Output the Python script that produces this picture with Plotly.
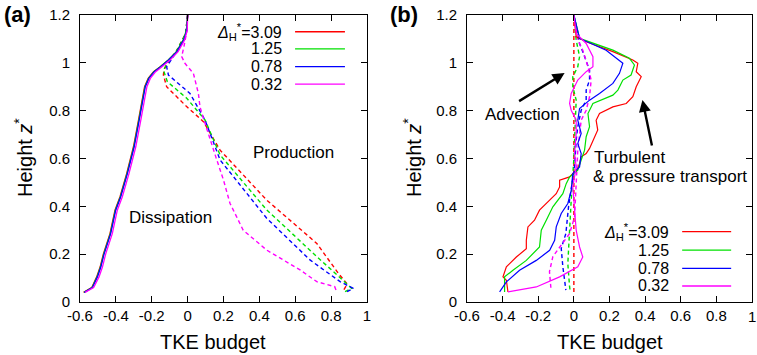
import plotly.graph_objects as go

# ---------------- data ----------------
labels = ["3.09", "1.25", "0.78", "0.32"]
colors = ["#ff0000", "#00e000", "#0000ff", "#ff00ff"]

# (a) dissipation (solid)
z_diss = [0.04, 0.06, 0.105, 0.146, 0.2, 0.286, 0.384, 0.44, 0.537, 0.649,
          0.76, 0.83, 0.9, 0.935, 0.963, 0.984, 1.012, 1.047, 1.095, 1.137, 1.2]
diss_309 = [-0.58, -0.535, -0.507, -0.488, -0.47, -0.433, -0.405, -0.377, -0.34, -0.302,
            -0.274, -0.256, -0.24, -0.22, -0.19, -0.153, -0.107, -0.06, -0.023, -0.005, 0.0]
diss_125 = [-0.578, -0.533, -0.505, -0.486, -0.468, -0.431, -0.403, -0.375, -0.338, -0.3,
            -0.272, -0.254, -0.238, -0.218, -0.188, -0.152, -0.108, -0.062, -0.025, -0.006, 0.0]
diss_078 = [-0.576, -0.531, -0.503, -0.484, -0.466, -0.429, -0.401, -0.373, -0.336, -0.298,
            -0.27, -0.252, -0.236, -0.216, -0.186, -0.15, -0.106, -0.06, -0.022, -0.004, 0.0]
diss_032 = [-0.572, -0.524, -0.494, -0.475, -0.457, -0.42, -0.392, -0.364, -0.327, -0.289,
            -0.261, -0.243, -0.227, -0.208, -0.178, -0.143, -0.098, -0.053, -0.017, -0.002, 0.0]

# (a) production (dashed)
z_prod_309 = [1.2, 1.12, 1.05, 1.0, 0.97, 0.949, 0.9, 0.824, 0.754, 0.635, 0.426, 0.245, 0.12, 0.075, 0.05]
prod_309 = [0.0, -0.012, -0.062, -0.112, -0.132, -0.135, -0.117, -0.015, 0.088, 0.181, 0.441, 0.72, 0.84, 0.89, 0.87]
z_prod_125 = [1.2, 1.12, 1.05, 1.0, 0.97, 0.921, 0.852, 0.761, 0.615, 0.385, 0.19, 0.1, 0.057, 0.043]
prod_125 = [0.0, -0.012, -0.062, -0.112, -0.135, -0.113, -0.005, 0.097, 0.181, 0.441, 0.72, 0.85, 0.915, 0.877]
z_prod_078 = [1.2, 1.12, 1.05, 1.0, 0.984, 0.949, 0.872, 0.761, 0.594, 0.35, 0.176, 0.085, 0.057, 0.043]
prod_078 = [0.0, -0.01, -0.058, -0.1, -0.117, -0.107, 0.013, 0.097, 0.181, 0.441, 0.682, 0.85, 0.924, 0.887]
z_prod_032 = [1.2, 1.13, 1.07, 1.026, 0.998, 0.956, 0.872, 0.816, 0.761, 0.691, 0.6, 0.51, 0.413,
              0.30, 0.217, 0.134, 0.085, 0.064, 0.043]
prod_032 = [0.0, -0.005, -0.02, -0.033, -0.015, 0.032, 0.06, 0.069, 0.091, 0.12, 0.16, 0.2, 0.236,
            0.31, 0.441, 0.627, 0.72, 0.82, 0.831]

# (b) turbulent & pressure transport (solid)
z_tr_309 = [1.2, 1.109, 1.088, 1.047, 1.012, 0.998, 0.963, 0.942, 0.9, 0.858, 0.83, 0.816, 0.788, 0.76,
            0.719, 0.677, 0.642, 0.621, 0.607, 0.579, 0.558, 0.523, 0.509, 0.481, 0.453, 0.426,
            0.384, 0.342, 0.314, 0.258, 0.223, 0.188, 0.147, 0.105, 0.091, 0.042]
tr_309 = [0.0, 0.013, 0.069, 0.219, 0.331, 0.359, 0.35, 0.378, 0.35, 0.331, 0.294, 0.219, 0.144, 0.125,
          0.134, 0.107, 0.088, 0.069, 0.041, 0.032, 0.022, -0.024, -0.08, -0.08, -0.099, -0.136,
          -0.193, -0.221, -0.258, -0.267, -0.267, -0.323, -0.379, -0.398, -0.379, -0.37]
z_tr_125 = [1.2, 1.102, 1.053, 1.019, 0.991, 0.949, 0.928, 0.886, 0.865, 0.844, 0.83, 0.788, 0.733,
            0.691, 0.635, 0.593, 0.551, 0.523, 0.495, 0.453, 0.398, 0.342, 0.3, 0.23, 0.174, 0.133,
            0.105, 0.042]
tr_125 = [0.0, 0.032, 0.219, 0.312, 0.34, 0.321, 0.275, 0.247, 0.219, 0.153, 0.107, 0.079, 0.088,
          0.069, 0.06, 0.041, 0.022, -0.024, -0.043, -0.062, -0.118, -0.155, -0.183, -0.193, -0.267,
          -0.342, -0.389, -0.389]
z_tr_078 = [1.2, 1.102, 1.053, 0.998, 0.956, 0.914, 0.872, 0.844, 0.809, 0.76, 0.705, 0.663, 0.621,
            0.565, 0.537, 0.467, 0.412, 0.37, 0.314, 0.258, 0.216, 0.174, 0.133, 0.084, 0.042]
tr_078 = [0.0, 0.032, 0.181, 0.275, 0.256, 0.219, 0.144, 0.088, 0.032, 0.022, 0.041, 0.022, 0.041,
          0.032, -0.006, -0.015, -0.034, -0.071, -0.099, -0.108, -0.136, -0.211, -0.305, -0.379, -0.417]
z_tr_032 = [1.2, 1.123, 1.081, 1.026, 0.984, 0.963, 0.928, 0.872, 0.83, 0.802, 0.76, 0.705, 0.621,
            0.565, 0.481, 0.398, 0.3, 0.23, 0.188, 0.147, 0.105, 0.063, 0.042]
tr_032 = [0.0, 0.013, 0.069, 0.107, 0.107, 0.069, 0.022, -0.015, -0.024, -0.015, 0.013, 0.013, 0.004,
          0.013, -0.006, 0.004, 0.013, 0.032, 0.05, 0.022, -0.08, -0.211, -0.37]

# (b) advection (dashed)
z_adv_309 = [1.2, 1.0, 0.8, 0.6, 0.4, 0.2, 0.042]
adv_309 = [0.0, 0.0, -0.002, 0.0, 0.002, 0.0, 0.0]
z_adv_125 = [1.2, 1.095, 1.026, 0.984, 0.942, 0.9, 0.844, 0.75, 0.6, 0.426, 0.286, 0.16, 0.063, 0.042]
adv_125 = [0.0, 0.013, 0.032, 0.022, -0.006, -0.006, 0.013, 0.008, 0.0, -0.015, -0.024, -0.034, -0.024, -0.02]
z_adv_078 = [1.2, 1.081, 1.026, 0.97, 0.928, 0.886, 0.844, 0.802, 0.733, 0.677, 0.565, 0.481, 0.398,
             0.286, 0.224, 0.148, 0.05]
adv_078 = [0.0, 0.032, 0.06, 0.088, 0.088, 0.069, 0.069, 0.041, 0.022, 0.013, 0.004, -0.015, -0.03,
           -0.045, -0.071, -0.062, -0.045]
z_adv_032 = [1.2, 1.095, 1.053, 0.984, 0.928, 0.858, 0.802, 0.76, 0.635, 0.481, 0.356, 0.286, 0.231,
             0.19, 0.127, 0.05]
adv_032 = [0.0, 0.022, 0.05, 0.079, 0.097, 0.088, 0.069, 0.041, 0.022, 0.013, 0.004, -0.024, -0.08,
           -0.118, -0.137, -0.128]

x_ticks = [-0.6, -0.4, -0.2, 0, 0.2, 0.4, 0.6, 0.8, 1]
x_ticktext = ["-0.6", "-0.4", "-0.2", "0", "0.2", "0.4", "0.6", "0.8", "1"]
y_ticks = [0, 0.2, 0.4, 0.6, 0.8, 1.0, 1.2]
y_ticktext = ["0", "0.2", "0.4", "0.6", "0.8", "1", "1.2"]

# ---------------- figure ----------------
W, H = 757, 355
FONT = "Liberation Sans, Arial, sans-serif"

fig = go.Figure()

def add(xs, zs, color, dash, xa, ya, width):
    fig.add_trace(go.Scatter(
        x=xs, y=zs, mode="lines", xaxis=xa, yaxis=ya, showlegend=False,
        line=dict(color=color, width=width, dash=dash), hoverinfo="skip"))

diss = [diss_309, diss_125, diss_078, diss_032]
prod = [(prod_309, z_prod_309), (prod_125, z_prod_125), (prod_078, z_prod_078), (prod_032, z_prod_032)]
tran = [(tr_309, z_tr_309), (tr_125, z_tr_125), (tr_078, z_tr_078), (tr_032, z_tr_032)]
adv = [(adv_309, z_adv_309), (adv_125, z_adv_125), (adv_078, z_adv_078), (adv_032, z_adv_032)]

DASH = "4px,3px"
for i, c in enumerate(colors):
    add(prod[i][0], prod[i][1], c, DASH, "x", "y", 1.4)
for i, c in enumerate(colors):
    add(diss[i], z_diss, c, "solid", "x", "y", 1.3)
for i, c in enumerate(colors):
    add(adv[i][0], adv[i][1], c, DASH, "x2", "y2", 1.4)
for i, c in enumerate(colors):
    add(tran[i][0], tran[i][1], c, "solid", "x2", "y2", 1.2)

TICK_SIZE = 15
axis_common = dict(
    showline=True, linecolor="black", linewidth=1, mirror="ticks",
    ticks="inside", ticklen=6, tickcolor="black", tickwidth=1,
    showgrid=False, zeroline=False, automargin=False, ticklabeloverflow="allow",
    tickfont=dict(family=FONT, size=TICK_SIZE, color="black"),
)
y_common = dict(range=[0, 1.2], tickvals=y_ticks, ticktext=y_ticktext, ticklabelstandoff=6)

dom_a = [80 / W, 367 / W]
dom_b = [467 / W, 752 / W]
dom_y = [1 - 302 / H, 1 - 15 / H]

# the right-panel "1" sits at the page edge, so it is written as a free label below
x2_ticktext = x_ticktext[:-1] + [""]

fig.update_layout(
    width=W, height=H, margin=dict(l=0, r=0, t=0, b=0, autoexpand=False),
    paper_bgcolor="white", plot_bgcolor="white", showlegend=False,
    xaxis=dict(domain=dom_a, anchor="y", range=[-0.6, 1], tickvals=x_ticks,
               ticktext=x_ticktext, ticklabelstandoff=0, **axis_common),
    yaxis=dict(domain=dom_y, anchor="x", **y_common, **axis_common),
    xaxis2=dict(domain=dom_b, anchor="y2", range=[-0.6, 1], tickvals=x_ticks,
                ticktext=x2_ticktext, ticklabelstandoff=0, **axis_common),
    yaxis2=dict(domain=dom_y, anchor="x2", **y_common, **axis_common),
)

ann = []

def text(x, y, s, size, xref="paper", yref="paper", xanchor="center", yanchor="middle",
         angle=0, bold=False):
    ann.append(dict(x=x, y=y, xref=xref, yref=yref, text=f"<b>{s}</b>" if bold else s,
                    showarrow=False, xanchor=xanchor, yanchor=yanchor, textangle=angle,
                    font=dict(family=FONT, size=size, color="black")))

# last tick label of the right panel
text(x_ticks[-1], 1 - 316 / H, x_ticktext[-1], TICK_SIZE, xref="x2")

# panel labels
text(2 / W, 1 - 15 / H, "(a)", 22, xanchor="left", bold=True)
text(388 / W, 1 - 15 / H, "(b)", 22, xanchor="left", bold=True)

# axis titles
for cx in (213 / W, 610 / W):
    text(cx, 1 - 342 / H, "TKE budget", 20)
for cx in (23 / W, 412 / W):
    text(cx, 1 - 158 / H, "Height <i>z</i><sup>*</sup>", 20, angle=-90)

# panel (a) labels
text(0.588, 0.623, "Production", 17, xref="x", yref="y")
text(-0.098, 0.355, "Dissipation", 17, xref="x", yref="y")

# panel (b) labels and arrows
text(-0.288, 0.782, "Advection", 17, xref="x2", yref="y2")
text(0.103, 0.606, "Turbulent", 17, xref="x2", yref="y2", xanchor="left")
text(0.098, 0.523, "&amp; pressure transport", 17, xref="x2", yref="y2", xanchor="left")
for (tx, ty, hx, hy) in [(-0.316, 0.836, -0.052, 0.957), (0.44, 0.648, 0.385, 0.845)]:
    ann.append(dict(x=hx, y=hy, ax=tx, ay=ty, xref="x2", yref="y2", axref="x2", ayref="y2",
                    showarrow=True, arrowhead=2, arrowsize=1, arrowwidth=2.4,
                    arrowcolor="black", text=""))

# key blocks
shapes = []
key_a = dict(xref="x", yref="y", x0=0.599, x1=0.877, xt=0.537, ys=[1.13, 1.058, 0.984, 0.911])
key_b = dict(xref="x2", yref="y2", x0=0.608, x1=0.883, xt=0.546, ys=[0.294, 0.217, 0.141, 0.067])
for key in (key_a, key_b):
    for i, (lab, c) in enumerate(zip(labels, colors)):
        y = key["ys"][i]
        shapes.append(dict(type="line", xref=key["xref"], yref=key["yref"],
                           x0=key["x0"], x1=key["x1"], y0=y, y1=y,
                           line=dict(color=c, width=1.3)))
        s = ("<i>Δ</i><sub>H</sub><sup>*</sup>=" + lab) if i == 0 else lab
        text(key["xt"], y, s, 16, xref=key["xref"], yref=key["yref"], xanchor="right")

fig.update_layout(annotations=ann, shapes=shapes)
fig.write_html("out.html")
